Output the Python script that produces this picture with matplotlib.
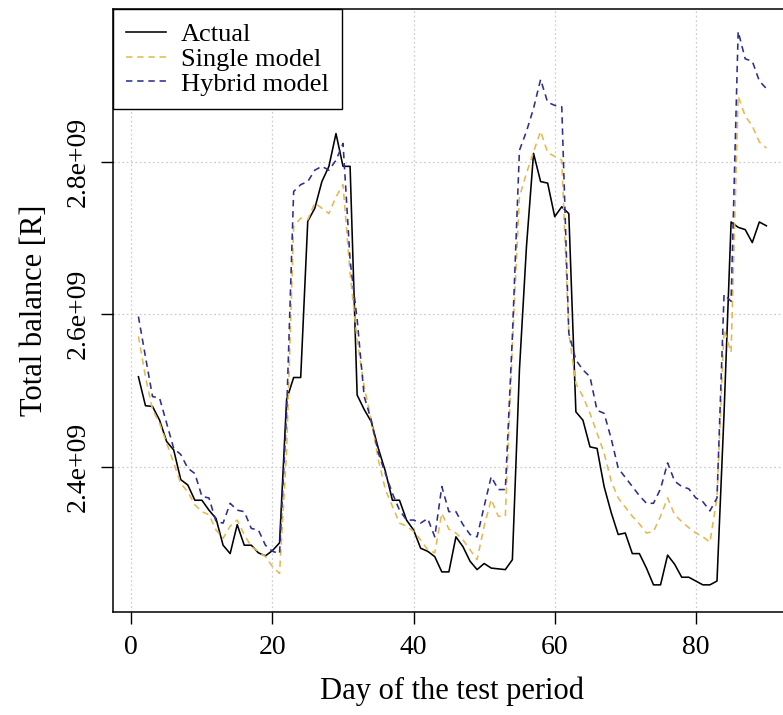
import numpy as np
import matplotlib
matplotlib.use("Agg")
import matplotlib.pyplot as plt

days = list(range(1, 91))

actual = [2.518, 2.480, 2.479, 2.461, 2.433, 2.422, 2.383, 2.376, 2.356, 2.356,
          2.343, 2.332, 2.297, 2.286, 2.324, 2.297, 2.297, 2.287, 2.283, 2.290,
          2.300, 2.488, 2.517, 2.517, 2.722, 2.739, 2.774, 2.794, 2.837, 2.794,
          2.794, 2.494, 2.475, 2.459, 2.424, 2.394, 2.356, 2.356, 2.330, 2.317,
          2.293, 2.289, 2.282, 2.262, 2.262, 2.308, 2.295, 2.276, 2.265, 2.273,
          2.267, 2.266, 2.265, 2.278, 2.527, 2.689, 2.811, 2.774, 2.772, 2.728,
          2.741, 2.732, 2.472, 2.461, 2.426, 2.424, 2.374, 2.340, 2.311, 2.313,
          2.286, 2.286, 2.267, 2.245, 2.245, 2.284, 2.272, 2.255, 2.255, 2.250,
          2.245, 2.245, 2.250, 2.470, 2.721, 2.714, 2.711, 2.694, 2.721, 2.716]

single = [2.571, 2.518, 2.475, 2.457, 2.431, 2.405, 2.378, 2.367, 2.350, 2.341,
          2.337, 2.317, 2.306, 2.322, 2.330, 2.311, 2.295, 2.289, 2.282, 2.269,
          2.260, 2.420, 2.715, 2.726, 2.724, 2.746, 2.739, 2.732, 2.754, 2.770,
          2.654, 2.566, 2.505, 2.461, 2.409, 2.370, 2.348, 2.326, 2.322, 2.315,
          2.304, 2.291, 2.287, 2.339, 2.318, 2.313, 2.304, 2.291, 2.278, 2.322,
          2.357, 2.335, 2.335, 2.558, 2.754, 2.785, 2.813, 2.840, 2.812, 2.807,
          2.802, 2.575, 2.509, 2.492, 2.470, 2.444, 2.418, 2.381, 2.359, 2.347,
          2.335, 2.325, 2.313, 2.315, 2.335, 2.359, 2.337, 2.328, 2.320, 2.313,
          2.308, 2.301, 2.359, 2.580, 2.550, 2.886, 2.860, 2.847, 2.826, 2.818]

hybrid = [2.597, 2.544, 2.492, 2.490, 2.457, 2.424, 2.416, 2.398, 2.391, 2.361,
          2.359, 2.328, 2.326, 2.352, 2.343, 2.341, 2.319, 2.317, 2.297, 2.289,
          2.286, 2.470, 2.761, 2.770, 2.774, 2.789, 2.794, 2.789, 2.802, 2.824,
          2.671, 2.593, 2.492, 2.461, 2.418, 2.391, 2.365, 2.343, 2.330, 2.330,
          2.326, 2.332, 2.308, 2.374, 2.341, 2.341, 2.324, 2.311, 2.308, 2.348,
          2.387, 2.370, 2.370, 2.571, 2.815, 2.840, 2.870, 2.908, 2.878, 2.874,
          2.872, 2.575, 2.540, 2.527, 2.518, 2.474, 2.470, 2.437, 2.398, 2.386,
          2.374, 2.362, 2.352, 2.352, 2.371, 2.405, 2.381, 2.374, 2.371, 2.359,
          2.354, 2.342, 2.359, 2.626, 2.617, 2.971, 2.935, 2.932, 2.906, 2.896]

x_ticks = [0, 20, 40, 60, 80]
y_ticks = [2.4e9, 2.6e9, 2.8e9]
y_tick_labels = ["2.4e+09", "2.6e+09", "2.8e+09"]
series_labels = ["Actual", "Single model", "Hybrid model"]

plt.rcParams['font.family'] = ['Liberation Serif', 'DejaVu Serif']

W, H = 783, 715
fig = plt.figure(figsize=(W / 100, H / 100), dpi=100)
ax_left, ax_right, ax_top, ax_bottom = 113.3, 791.5, 9.3, 612.3
ax = fig.add_axes([ax_left / W, 1 - ax_bottom / H,
                   (ax_right - ax_left) / W, (ax_bottom - ax_top) / H])

d = np.array(days)
ax.plot(d, np.array(actual) * 1e9, color='black', lw=1.15, label=series_labels[0])
ax.plot(d, np.array(single) * 1e9, color='#E4B950', lw=1.15, dashes=(4, 3),
        label=series_labels[1])
ax.plot(d, np.array(hybrid) * 1e9, color='#2E2E90', lw=1.15, dashes=(4, 3),
        label=series_labels[2])

ax.set_xlim(-2.56, 93.56)
ax.set_ylim(2.209e9, 3.0e9)

ax.set_xticks(x_ticks)
ax.set_xticklabels([str(t) for t in x_ticks])
ax.set_yticks(y_ticks)
ax.set_yticklabels(y_tick_labels, rotation=90, va='center')

for v in x_ticks:
    ax.axvline(v, color='#cfcfcf', lw=0.9, ls=(0, (1.5, 2)), zorder=0)
for v in y_ticks:
    ax.axhline(v, color='#cfcfcf', lw=0.9, ls=(0, (1.5, 2)), zorder=0)

ax.tick_params(axis='both', direction='out', length=8.5, width=1, labelsize=20,
               colors='black')
ax.tick_params(axis='x', pad=8)
ax.tick_params(axis='y', pad=8)
for s in ax.spines.values():
    s.set_linewidth(1.1)
    s.set_color('black')

ax.set_xlabel("Day of the test period", fontsize=22, labelpad=12)
ax.set_ylabel("Total balance [R]", fontsize=22, labelpad=12)

leg = ax.legend(loc='upper left', bbox_to_anchor=(0, 1), borderaxespad=0,
                fancybox=False, framealpha=1, edgecolor='black', fontsize=19,
                handlelength=1.5, handletextpad=0.55, borderpad=0.5,
                labelspacing=0.05)
leg.get_frame().set_linewidth(1.0)

fig.savefig("out.png", dpi=100)
